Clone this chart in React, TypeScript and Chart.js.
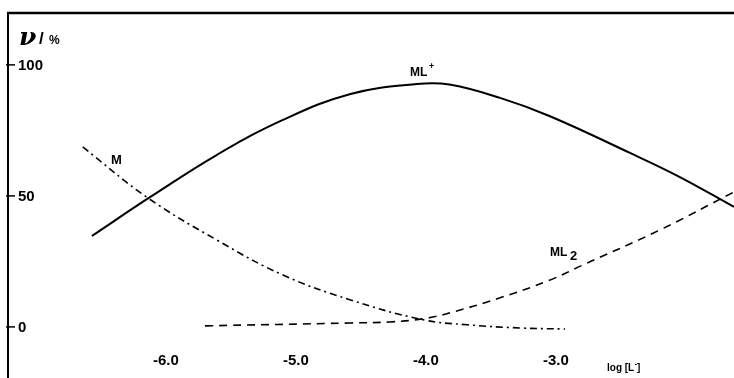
import React, { useEffect, useRef } from "react";
import { Chart, registerables } from "chart.js";

Chart.register(...registerables);

// ML+ (solid)
const mlPlusX = [-6.57, -6.12, -5.61, -5.1, -4.58, -4.07, -3.82, -3.43, -3.05, -2.43, -2.05, -1.63];
const mlPlusY = [34.7, 49.6, 65.6, 79.0, 88.9, 92.7, 92.5, 87.4, 80.5, 66.4, 57.3, 45.8];
// M (dash-dot)
const mX = [-6.64, -6.15, -5.61, -5.1, -4.58, -4.02, -3.68, -3.28, -2.93];
const mY = [68.7, 49.6, 33.2, 19.8, 10.3, 2.7, 0.8, -0.4, -0.8];
// ML2 (dashed)
const ml2X = [-5.7, -4.58, -4.28, -4.02, -3.82, -3.43, -3.05, -2.79, -2.2, -1.63];
const ml2Y = [0.4, 1.5, 1.9, 3.1, 5.3, 11.1, 17.8, 23.7, 37.0, 51.5];

const yTicks = [100, 50, 0];
const yTickLabels = ["100", "50", "0"];
const xTicks = [-6, -5, -4, -3];
const xTickLabels = ["-6.0", "-5.0", "-4.0", "-3.0"];

const X_MIN = -7.215;
const X_MAX = -1.63;
const Y_MIN = -19.5;
const Y_MAX = 119.8;

const FONT = '"Liberation Sans", Arial, sans-serif';

const toPts = (xs: number[], ys: number[]) => xs.map((x, i) => ({ x, y: ys[i] }));

const decorPlugin = {
  id: "decor",
  afterDatasetsDraw(chart: any) {
    const ctx = chart.ctx as CanvasRenderingContext2D;
    const xs = chart.scales.x;
    const ys = chart.scales.y;
    const area = chart.chartArea;
    ctx.save();
    ctx.strokeStyle = "#000";
    ctx.fillStyle = "#000";
    // frame lines
    ctx.lineWidth = 2.5;
    ctx.beginPath();
    ctx.moveTo(area.left - 1, area.top);
    ctx.lineTo(area.right, area.top);
    ctx.stroke();
    ctx.lineWidth = 2;
    ctx.beginPath();
    ctx.moveTo(area.left, area.top);
    ctx.lineTo(area.left, area.bottom);
    ctx.stroke();

    // y ticks
    ctx.lineWidth = 1.5;
    ctx.font = `bold 15px ${FONT}`;
    ctx.textAlign = "left";
    ctx.textBaseline = "middle";
    yTicks.forEach((v, i) => {
      const py = ys.getPixelForValue(v);
      ctx.beginPath();
      ctx.moveTo(area.left - 2, py);
      ctx.lineTo(area.left + 7, py);
      ctx.stroke();
      ctx.fillText(yTickLabels[i], area.left + 10, py + 0.5);
    });

    // x tick labels
    ctx.textAlign = "center";
    xTicks.forEach((v, i) => {
      const px = xs.getPixelForValue(v);
      ctx.fillText(xTickLabels[i], px, 361);
    });

    // x axis title
    ctx.textAlign = "left";
    ctx.textBaseline = "alphabetic";
    ctx.font = `bold 10px ${FONT}`;
    let tx = 607;
    const s1 = "log [L";
    ctx.fillText(s1, tx, 371);
    tx += ctx.measureText(s1).width;
    ctx.font = `bold 7px ${FONT}`;
    ctx.fillText("-", tx + 0.5, 366);
    tx += ctx.measureText("-").width + 0.5;
    ctx.font = `bold 10px ${FONT}`;
    ctx.fillText("]", tx, 371);

    // y axis title
    ctx.font = `bold italic 25px "DejaVu Serif", serif`;
    ctx.fillText("ν", 19, 45);
    ctx.font = `bold 17px ${FONT}`;
    ctx.fillText("/", 39, 44);
    ctx.font = `bold 12px ${FONT}`;
    ctx.fillText("%", 49, 44);

    // curve labels
    ctx.font = `bold 12px ${FONT}`;
    ctx.fillText("ML", 410, 76);
    ctx.font = `bold 9px ${FONT}`;
    ctx.fillText("+", 429, 69);

    ctx.font = `bold 13px ${FONT}`;
    ctx.fillText("M", 111, 164);

    ctx.font = `bold 12px ${FONT}`;
    ctx.fillText("ML", 550, 256);
    ctx.font = `bold 13px ${FONT}`;
    ctx.fillText("2", 570, 260);

    ctx.restore();
  },
};

export default function App() {
  const ref = useRef<HTMLCanvasElement | null>(null);

  useEffect(() => {
    if (!ref.current) return;
    const chart = new Chart(ref.current, {
      type: "line",
      data: {
        datasets: [
          {
            label: "ML+",
            data: toPts(mlPlusX, mlPlusY),
            borderColor: "#000",
            borderWidth: 2,
            pointRadius: 0,
            fill: false,
            tension: 0.4,
          },
          {
            label: "M",
            data: toPts(mX, mY),
            borderColor: "#000",
            borderWidth: 1.6,
            borderDash: [7, 4, 2, 4],
            pointRadius: 0,
            fill: false,
            tension: 0.4,
          },
          {
            label: "ML2",
            data: toPts(ml2X, ml2Y),
            borderColor: "#000",
            borderWidth: 1.6,
            borderDash: [8, 6],
            pointRadius: 0,
            fill: false,
            tension: 0.4,
          },
        ],
      },
      options: {
        responsive: false,
        animation: false,
        layout: { padding: { left: 8, top: 13, right: 0, bottom: 0 } },
        plugins: { legend: { display: false }, tooltip: { enabled: false } },
        scales: {
          x: { type: "linear", min: X_MIN, max: X_MAX, display: false },
          y: { type: "linear", min: Y_MIN, max: Y_MAX, display: false },
        },
      },
      plugins: [decorPlugin],
    });
    return () => chart.destroy();
  }, []);

  return (
    <div style={{ position: "absolute", left: 0, top: 0, width: 734, height: 378, background: "#fff" }}>
      <canvas ref={ref} width={734} height={378} style={{ display: "block" }} />
    </div>
  );
}
